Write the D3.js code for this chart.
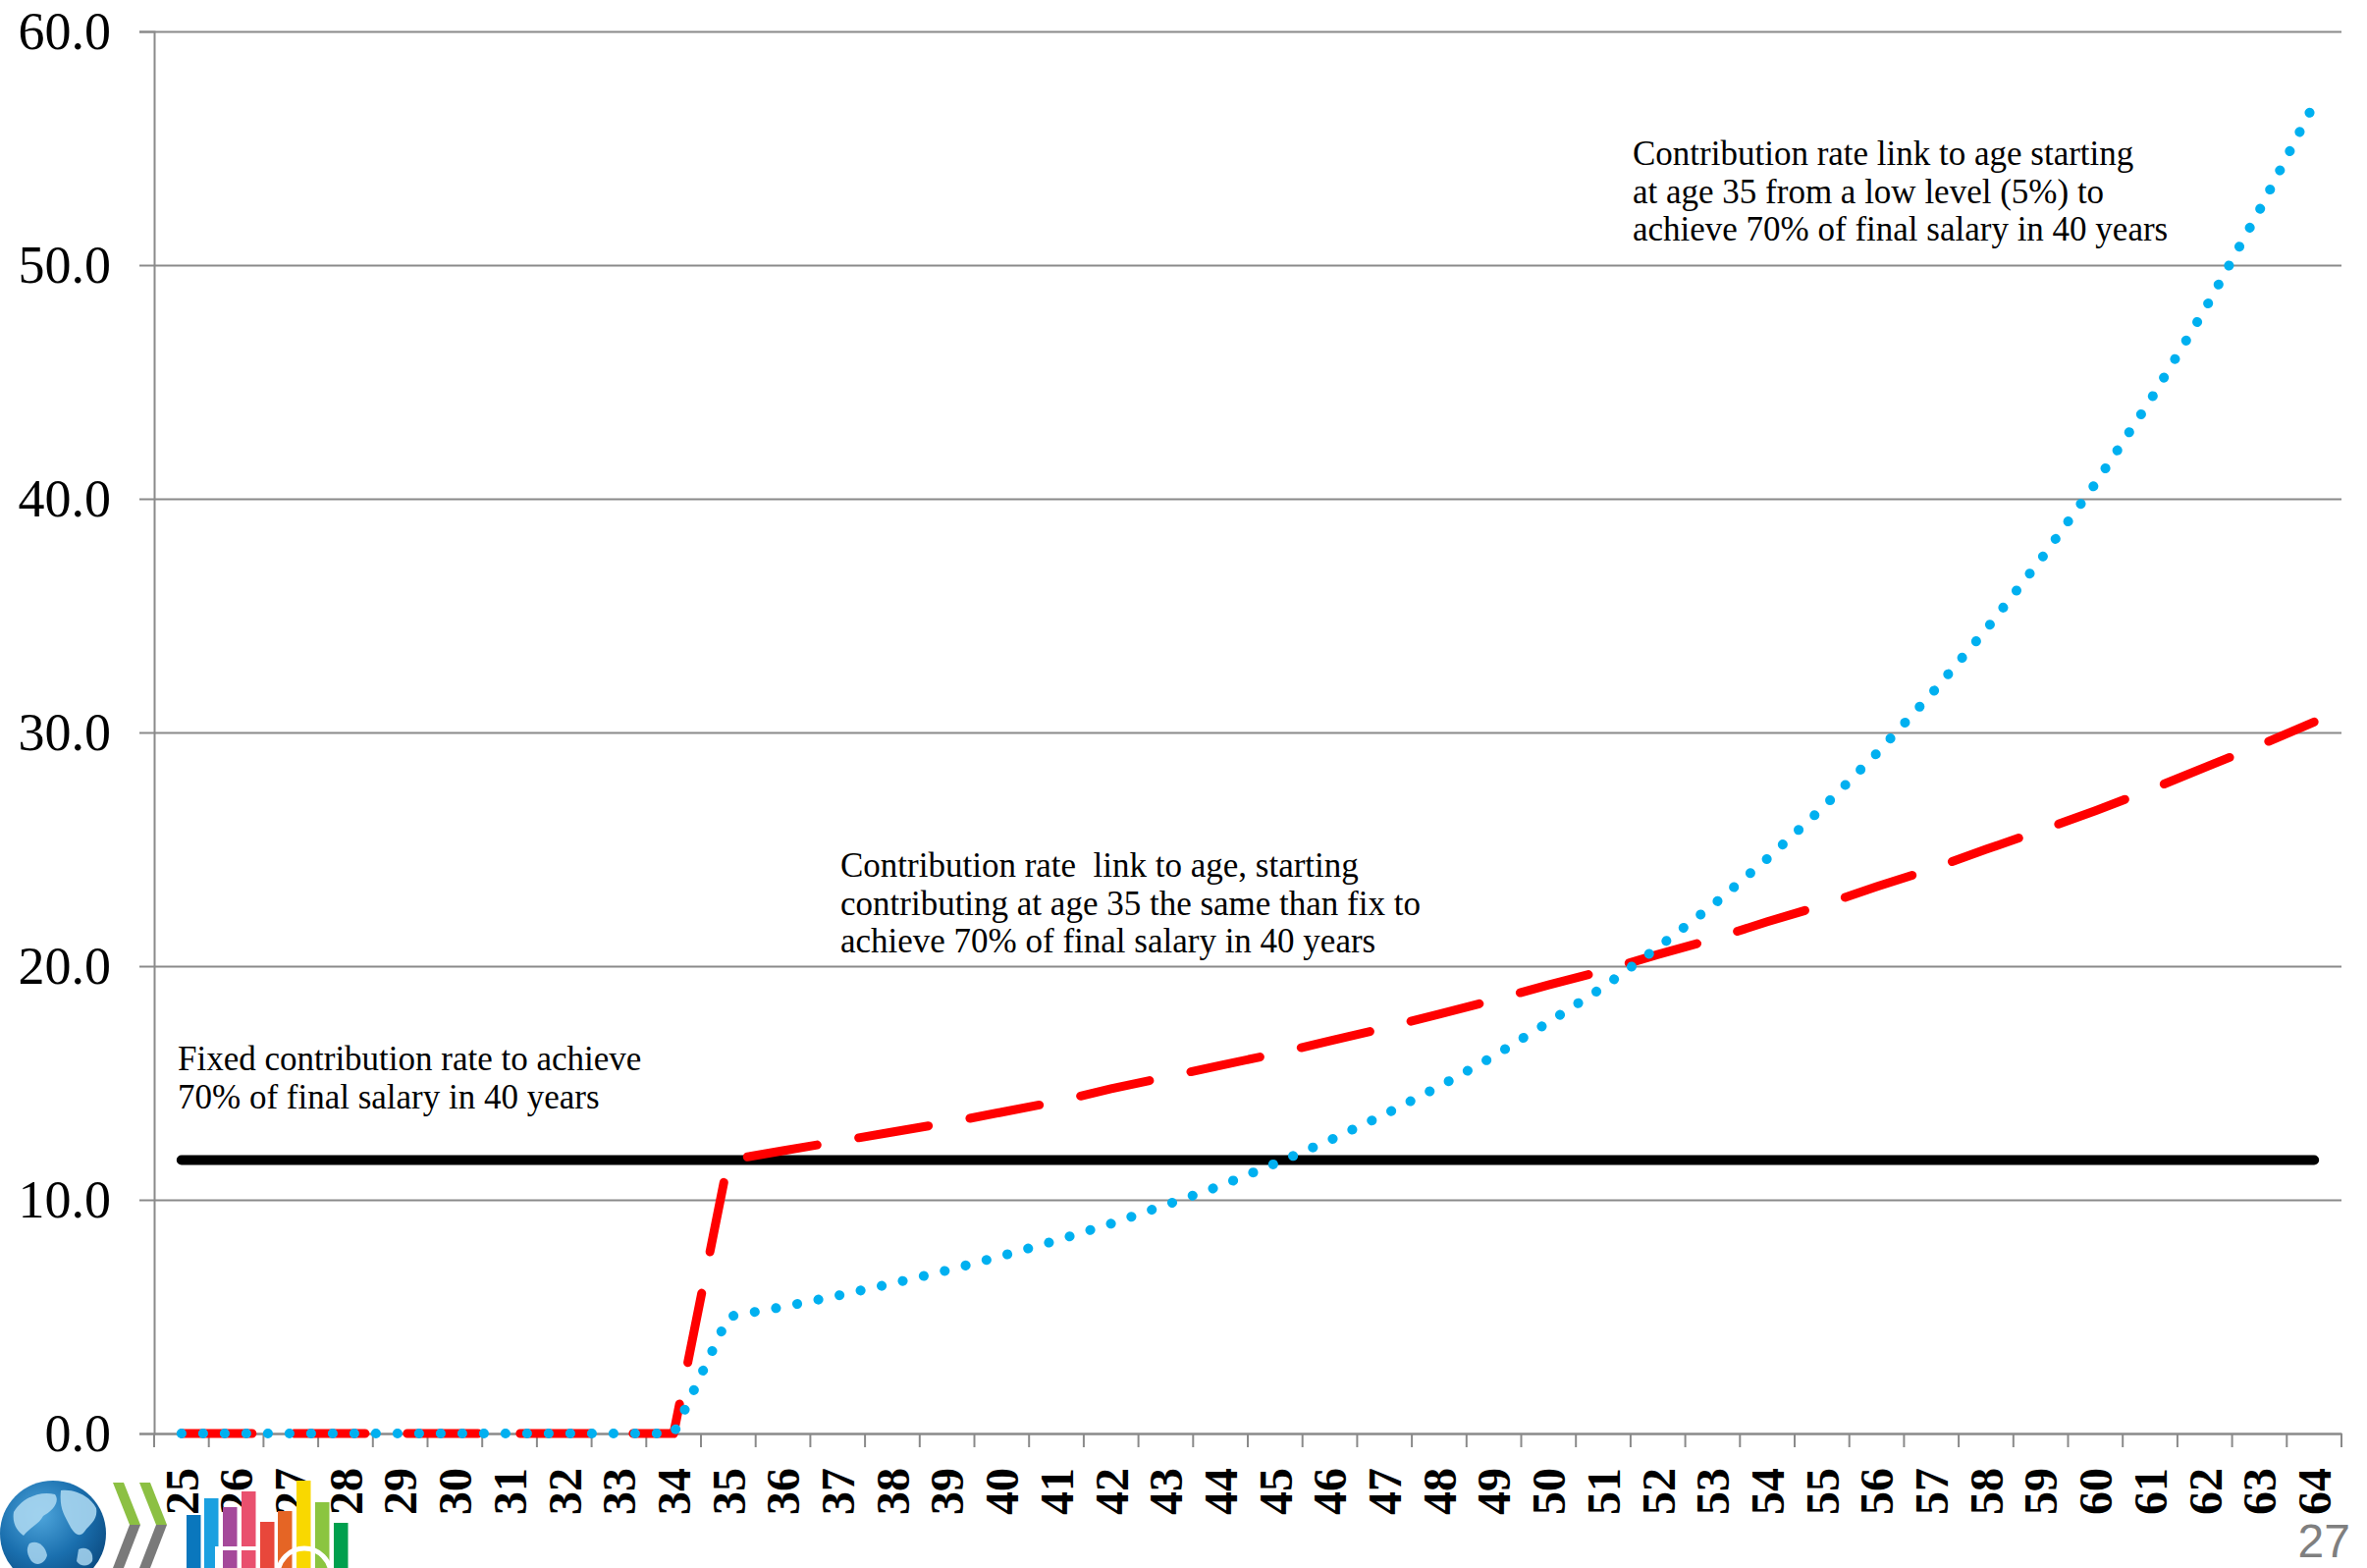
<!DOCTYPE html>
<html>
<head>
<meta charset="utf-8">
<script src="https://cdn.jsdelivr.net/npm/d3@7"></script>
<style>
  html, body { margin: 0; padding: 0; background: #fff; }
  svg { display: block; }
</style>
</head>
<body>
<script>
// Ages on the horizontal axis
const ages = [25, 26, 27, 28, 29, 30, 31, 32, 33, 34,
              35, 36, 37, 38, 39, 40, 41, 42, 43, 44,
              45, 46, 47, 48, 49, 50, 51, 52, 53, 54,
              55, 56, 57, 58, 59, 60, 61, 62, 63, 64];

// Fixed contribution rate (% of salary) over the whole career
const fixedRate = [11.7, 11.7, 11.7, 11.7, 11.7, 11.7, 11.7, 11.7, 11.7, 11.7,
                   11.7, 11.7, 11.7, 11.7, 11.7, 11.7, 11.7, 11.7, 11.7, 11.7,
                   11.7, 11.7, 11.7, 11.7, 11.7, 11.7, 11.7, 11.7, 11.7, 11.7,
                   11.7, 11.7, 11.7, 11.7, 11.7, 11.7, 11.7, 11.7, 11.7, 11.7];

// Age-linked rate, starting at 35 at the same level as the fixed rate
const ageLinkedRate = [0, 0, 0, 0, 0, 0, 0, 0, 0, 0,
                       11.7, 12.1, 12.5, 12.9, 13.3, 13.75, 14.2, 14.75, 15.25, 15.75,
                       16.25, 16.8, 17.35, 17.95, 18.55, 19.2, 19.8, 20.5, 21.15, 21.9,
                       22.6, 23.4, 24.15, 25.0, 25.8, 26.65, 27.55, 28.5, 29.45, 30.45];

// Age-linked rate, starting at 35 from a low level (5%)
const lowStartRate = [0, 0, 0, 0, 0, 0, 0, 0, 0, 0,
                      5.0, 5.42, 5.9, 6.42, 6.98, 7.6, 8.26, 8.98, 9.78, 10.6,
                      11.55, 12.55, 13.65, 14.85, 16.15, 17.6, 19.1, 20.8, 22.6, 24.6,
                      26.75, 29.1, 31.65, 34.4, 37.4, 40.65, 44.2, 48.1, 52.35, 56.9];

const yTicks = [0, 10, 20, 30, 40, 50, 60];

const annotations = [
  { lines: ["Contribution rate link to age starting",
            "at age 35 from a low level (5%) to",
            "achieve 70% of final salary in 40 years"], x: 1663, y: 168 },
  { lines: ["Contribution rate  link to age, starting",
            "contributing at age 35 the same than fix to",
            "achieve 70% of final salary in 40 years"], x: 856, y: 893 },
  { lines: ["Fixed contribution rate to achieve",
            "70% of final salary in 40 years"], x: 181, y: 1090 }
];

const W = 2411, H = 1597;
const svg = d3.select("body").append("svg")
  .attr("width", W).attr("height", H)
  .attr("viewBox", `0 0 ${W} ${H}`);

const plotLeft = 157, plotRight = 2385, plotTop = 32, plotBottom = 1460;

const x = d3.scaleBand().domain(ages).range([plotLeft, plotRight]).padding(0);
const y = d3.scaleLinear().domain([0, 60]).range([plotBottom, plotTop]);
const cx = a => x(a) + x.bandwidth() / 2;

const gridColor = "#8a8a8a";

// horizontal gridlines
const grid = svg.append("g")
  .attr("transform", `translate(${plotLeft},0)`)
  .call(d3.axisLeft(y).tickValues(yTicks).tickSize(-(plotRight - plotLeft)).tickFormat(""));
grid.select(".domain").remove();
grid.selectAll("line").attr("stroke", gridColor).attr("stroke-width", 2);

// y axis with labels
const yAxis = svg.append("g")
  .attr("transform", `translate(${plotLeft},0)`)
  .call(d3.axisLeft(y).tickValues(yTicks).tickSize(15).tickPadding(29)
        .tickFormat(d3.format(".1f")));
yAxis.select(".domain").attr("stroke", gridColor).attr("stroke-width", 2);
yAxis.selectAll("line").attr("stroke", gridColor).attr("stroke-width", 2);
yAxis.selectAll("text")
  .attr("font-family", "'Liberation Serif', serif")
  .attr("font-size", 54)
  .attr("fill", "#000")
  .attr("dy", "0.33em");

// x axis: line and labels at category centres
const xAxis = svg.append("g")
  .attr("transform", `translate(0,${plotBottom})`)
  .call(d3.axisBottom(x).tickSizeInner(0).tickSizeOuter(0).tickPadding(0));
xAxis.select(".domain").attr("stroke", gridColor).attr("stroke-width", 2);
xAxis.selectAll(".tick line").remove();
xAxis.selectAll("text")
  .attr("font-family", "'Liberation Serif', serif")
  .attr("font-weight", "bold")
  .attr("font-size", 48)
  .attr("fill", "#000")
  .attr("text-anchor", "end")
  .attr("transform", "rotate(-90)")
  .attr("x", -35)
  .attr("y", 0)
  .attr("dy", "0.35em");

// x tick marks sit on the category boundaries
const boundaries = ages.map(a => x(a)).concat([x.range()[1]]);
svg.append("g").selectAll("line").data(boundaries).join("line")
  .attr("x1", d => d).attr("x2", d => d)
  .attr("y1", plotBottom).attr("y2", plotBottom + 14)
  .attr("stroke", gridColor).attr("stroke-width", 2);

// series
const line = d3.line().x(d => cx(d.age)).y(d => y(d.v));
const series = (vals) => ages.map((a, i) => ({ age: a, v: vals[i] }));

svg.append("path")
  .datum(series(fixedRate))
  .attr("d", line)
  .attr("fill", "none")
  .attr("stroke", "#000")
  .attr("stroke-width", 10)
  .attr("stroke-linecap", "round");

svg.append("path")
  .datum(series(ageLinkedRate))
  .attr("d", line)
  .attr("fill", "none")
  .attr("stroke", "#ff0000")
  .attr("stroke-width", 9)
  .attr("stroke-linecap", "round")
  .attr("stroke-linejoin", "round")
  .attr("stroke-dasharray", "72 43");

svg.append("path")
  .datum(series(lowStartRate))
  .attr("d", line)
  .attr("fill", "none")
  .attr("stroke", "#00b0f0")
  .attr("stroke-width", 10)
  .attr("stroke-linecap", "round")
  .attr("stroke-linejoin", "round")
  .attr("stroke-dasharray", "0.1 21.9");

// annotations
annotations.forEach(n => {
  const t = svg.append("text")
    .attr("font-family", "'Liberation Serif', serif")
    .attr("font-size", 35)
    .attr("fill", "#000")
    .attr("xml:space", "preserve")
    .style("white-space", "pre");
  n.lines.forEach((s, i) => {
    t.append("tspan").attr("x", n.x).attr("y", n.y + i * 38.5).text(s);
  });
});

// page number
svg.append("text")
  .attr("x", 2394).attr("y", 1586)
  .attr("text-anchor", "end")
  .attr("font-family", "'Liberation Sans', Arial, sans-serif")
  .attr("font-size", 48)
  .attr("fill", "#7f7f7f")
  .text("27");

// organisation logo in the bottom-left corner
const defs = svg.append("defs");
const rg = defs.append("radialGradient").attr("id", "globe")
  .attr("cx", "38%").attr("cy", "32%").attr("r", "70%");
rg.append("stop").attr("offset", "0%").attr("stop-color", "#4fa6dc");
rg.append("stop").attr("offset", "60%").attr("stop-color", "#1a6fae");
rg.append("stop").attr("offset", "100%").attr("stop-color", "#0d4f86");

const logo = svg.append("g");
logo.append("circle").attr("cx", 54).attr("cy", 1562).attr("r", 54).attr("fill", "url(#globe)");
const land = "#a9d6f0";
logo.append("path").attr("fill", land).attr("opacity", 0.9)
  .attr("d", "M14,1540 C22,1526 40,1518 56,1522 C62,1530 52,1540 44,1544 C40,1552 30,1556 24,1564 C18,1560 12,1552 14,1540 Z");
logo.append("path").attr("fill", land).attr("opacity", 0.9)
  .attr("d", "M62,1518 C76,1516 92,1524 98,1536 C100,1548 92,1552 86,1560 C80,1568 74,1560 70,1552 C66,1544 60,1536 62,1518 Z");
logo.append("path").attr("fill", land).attr("opacity", 0.85)
  .attr("d", "M30,1572 C38,1568 46,1574 48,1584 C46,1592 38,1596 32,1590 C28,1584 26,1578 30,1572 Z");
logo.append("path").attr("fill", land).attr("opacity", 0.85)
  .attr("d", "M80,1578 C88,1574 96,1580 94,1590 C90,1596 82,1596 78,1590 Z");

[0, 27].forEach(dx => {
  logo.append("polygon")
    .attr("points", `${115 + dx},1510 ${126 + dx},1510 ${143 + dx},1553 ${132 + dx},1553`)
    .attr("fill", "#8cc043");
  logo.append("polygon")
    .attr("points", `${132 + dx},1553 ${143 + dx},1553 ${126 + dx},1597 ${115 + dx},1597`)
    .attr("fill", "#7a7a7a");
});

const bars = [
  { x: 190, top: 1543, c: "#0a77bd" },
  { x: 208, top: 1526, c: "#1ba0e0" },
  { x: 227, top: 1535, c: "#a5499a" },
  { x: 246, top: 1519, c: "#e9506e" },
  { x: 265, top: 1550, c: "#e8473b" },
  { x: 283, top: 1539, c: "#e56525" },
  { x: 302, top: 1508, c: "#f9d800" },
  { x: 321, top: 1530, c: "#8bc540" },
  { x: 340, top: 1551, c: "#00a04e" }
];
logo.selectAll("rect.sdg").data(bars).join("rect")
  .attr("class", "sdg")
  .attr("x", d => d.x).attr("y", d => d.top)
  .attr("width", 14.5).attr("height", d => H - d.top)
  .attr("fill", d => d.c);
logo.append("path").attr("fill", "none").attr("stroke", "#fff").attr("stroke-width", 4)
  .attr("d", "M221,1597 L221,1577 L262,1577");
logo.append("circle").attr("cx", 310).attr("cy", 1604).attr("r", 27)
  .attr("fill", "none").attr("stroke", "#fff").attr("stroke-width", 5);
</script>
</body>
</html>
